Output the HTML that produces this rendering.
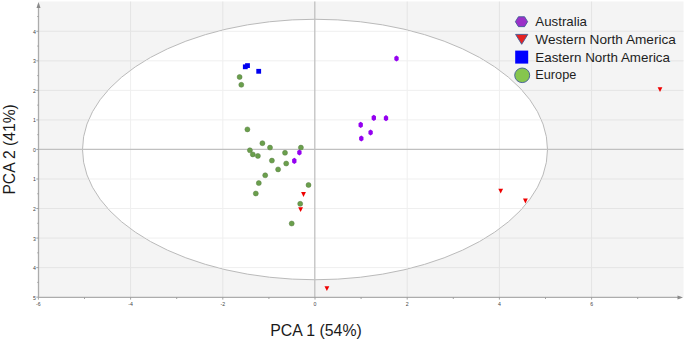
<!DOCTYPE html>
<html><head><meta charset="utf-8"><style>
html,body{margin:0;padding:0;background:#fff;width:685px;height:340px;overflow:hidden;}
svg{display:block;}
</style></head><body>
<svg width="685" height="340" viewBox="0 0 685 340">
<defs><clipPath id="ell"><ellipse cx="315" cy="149.5" rx="232" ry="129.75"/></clipPath></defs>
<rect x="38.5" y="1.5" width="645.0" height="295.9" fill="#f4f4f4"/>
<g stroke="#e4e4e4" stroke-width="1"><line x1="130.60" y1="1.5" x2="130.60" y2="297.4" /><line x1="222.80" y1="1.5" x2="222.80" y2="297.4" /><line x1="407.20" y1="1.5" x2="407.20" y2="297.4" /><line x1="499.40" y1="1.5" x2="499.40" y2="297.4" /><line x1="591.60" y1="1.5" x2="591.60" y2="297.4" /><line x1="38.5" y1="267.61" x2="683.5" y2="267.61" /><line x1="38.5" y1="238.07" x2="683.5" y2="238.07" /><line x1="38.5" y1="208.53" x2="683.5" y2="208.53" /><line x1="38.5" y1="178.99" x2="683.5" y2="178.99" /><line x1="38.5" y1="119.91" x2="683.5" y2="119.91" /><line x1="38.5" y1="90.37" x2="683.5" y2="90.37" /><line x1="38.5" y1="60.83" x2="683.5" y2="60.83" /><line x1="38.5" y1="31.29" x2="683.5" y2="31.29" /></g>
<ellipse cx="315" cy="149.5" rx="232.5" ry="130.25" fill="#ffffff" stroke="#bababa" stroke-width="1"/>
<g stroke="#efefef" stroke-width="1" clip-path="url(#ell)"><line x1="130.60" y1="1.5" x2="130.60" y2="297.4" /><line x1="222.80" y1="1.5" x2="222.80" y2="297.4" /><line x1="407.20" y1="1.5" x2="407.20" y2="297.4" /><line x1="499.40" y1="1.5" x2="499.40" y2="297.4" /><line x1="591.60" y1="1.5" x2="591.60" y2="297.4" /><line x1="38.5" y1="267.61" x2="683.5" y2="267.61" /><line x1="38.5" y1="238.07" x2="683.5" y2="238.07" /><line x1="38.5" y1="208.53" x2="683.5" y2="208.53" /><line x1="38.5" y1="178.99" x2="683.5" y2="178.99" /><line x1="38.5" y1="119.91" x2="683.5" y2="119.91" /><line x1="38.5" y1="90.37" x2="683.5" y2="90.37" /><line x1="38.5" y1="60.83" x2="683.5" y2="60.83" /><line x1="38.5" y1="31.29" x2="683.5" y2="31.29" /></g>
<line x1="38.5" y1="149.45" x2="683.5" y2="149.45" stroke="#c0c0c0" stroke-width="1.3"/>
<line x1="314.8" y1="1.5" x2="314.8" y2="297.4" stroke="#c0c0c0" stroke-width="1.3"/>
<line x1="38.5" y1="297.4" x2="680.5" y2="297.4" stroke="#acacac" stroke-width="1.3"/>
<line x1="38.5" y1="297.4" x2="38.5" y2="4.5" stroke="#acacac" stroke-width="1.3"/>
<path d="M683.0,297.4 L677.5,295.4 L677.5,299.4 Z" fill="#8a8a8a"/>
<path d="M38.5,2.0 L36.5,8.0 L40.5,8.0 Z" fill="#8a8a8a"/>
<g stroke="#999" stroke-width="0.9"><line x1="38.40" y1="297.4" x2="38.40" y2="299.59999999999997"/><line x1="84.50" y1="297.4" x2="84.50" y2="299.0"/><line x1="130.60" y1="297.4" x2="130.60" y2="299.59999999999997"/><line x1="176.70" y1="297.4" x2="176.70" y2="299.0"/><line x1="222.80" y1="297.4" x2="222.80" y2="299.59999999999997"/><line x1="268.90" y1="297.4" x2="268.90" y2="299.0"/><line x1="315.00" y1="297.4" x2="315.00" y2="299.59999999999997"/><line x1="361.10" y1="297.4" x2="361.10" y2="299.0"/><line x1="407.20" y1="297.4" x2="407.20" y2="299.59999999999997"/><line x1="453.30" y1="297.4" x2="453.30" y2="299.0"/><line x1="499.40" y1="297.4" x2="499.40" y2="299.59999999999997"/><line x1="545.50" y1="297.4" x2="545.50" y2="299.0"/><line x1="591.60" y1="297.4" x2="591.60" y2="299.59999999999997"/><line x1="637.70" y1="297.4" x2="637.70" y2="299.0"/><line x1="36.3" y1="297.15" x2="38.5" y2="297.15"/><line x1="37.3" y1="282.38" x2="38.5" y2="282.38"/><line x1="36.3" y1="267.61" x2="38.5" y2="267.61"/><line x1="37.3" y1="252.84" x2="38.5" y2="252.84"/><line x1="36.3" y1="238.07" x2="38.5" y2="238.07"/><line x1="37.3" y1="223.30" x2="38.5" y2="223.30"/><line x1="36.3" y1="208.53" x2="38.5" y2="208.53"/><line x1="37.3" y1="193.76" x2="38.5" y2="193.76"/><line x1="36.3" y1="178.99" x2="38.5" y2="178.99"/><line x1="37.3" y1="164.22" x2="38.5" y2="164.22"/><line x1="36.3" y1="149.45" x2="38.5" y2="149.45"/><line x1="37.3" y1="134.68" x2="38.5" y2="134.68"/><line x1="36.3" y1="119.91" x2="38.5" y2="119.91"/><line x1="37.3" y1="105.14" x2="38.5" y2="105.14"/><line x1="36.3" y1="90.37" x2="38.5" y2="90.37"/><line x1="37.3" y1="75.60" x2="38.5" y2="75.60"/><line x1="36.3" y1="60.83" x2="38.5" y2="60.83"/><line x1="37.3" y1="46.06" x2="38.5" y2="46.06"/><line x1="36.3" y1="31.29" x2="38.5" y2="31.29"/><line x1="37.3" y1="16.52" x2="38.5" y2="16.52"/></g>
<g font-family="Liberation Sans" font-size="5.2" fill="#444"><text x="38.40" y="306.30" text-anchor="middle">-6</text><text x="130.60" y="306.30" text-anchor="middle">-4</text><text x="222.80" y="306.30" text-anchor="middle">-2</text><text x="315.00" y="306.30" text-anchor="middle">0</text><text x="407.20" y="306.30" text-anchor="middle">2</text><text x="499.40" y="306.30" text-anchor="middle">4</text><text x="591.60" y="306.30" text-anchor="middle">6</text><text x="35.9" y="299.65" text-anchor="end">5</text><text x="35.9" y="270.11" text-anchor="end">4</text><text x="35.9" y="240.57" text-anchor="end">3</text><text x="35.9" y="211.03" text-anchor="end">2</text><text x="35.9" y="181.49" text-anchor="end">1</text><text x="35.9" y="151.95" text-anchor="end">0</text><text x="35.9" y="122.41" text-anchor="end">1</text><text x="35.9" y="92.87" text-anchor="end">2</text><text x="35.9" y="63.33" text-anchor="end">3</text><text x="35.9" y="33.79" text-anchor="end">4</text></g>
<circle cx="239.6" cy="77" r="2.5" fill="#6a9f4c" stroke="#5a7f45" stroke-width="0.5"/><circle cx="241.3" cy="84.8" r="2.5" fill="#6a9f4c" stroke="#5a7f45" stroke-width="0.5"/><circle cx="247.4" cy="129.4" r="2.5" fill="#6a9f4c" stroke="#5a7f45" stroke-width="0.5"/><circle cx="262.4" cy="143.2" r="2.5" fill="#6a9f4c" stroke="#5a7f45" stroke-width="0.5"/><circle cx="270" cy="147.6" r="2.5" fill="#6a9f4c" stroke="#5a7f45" stroke-width="0.5"/><circle cx="249.9" cy="150.3" r="2.5" fill="#6a9f4c" stroke="#5a7f45" stroke-width="0.5"/><circle cx="252.8" cy="154.4" r="2.5" fill="#6a9f4c" stroke="#5a7f45" stroke-width="0.5"/><circle cx="257.9" cy="155.9" r="2.5" fill="#6a9f4c" stroke="#5a7f45" stroke-width="0.5"/><circle cx="271.9" cy="160.6" r="2.5" fill="#6a9f4c" stroke="#5a7f45" stroke-width="0.5"/><circle cx="285" cy="152.8" r="2.5" fill="#6a9f4c" stroke="#5a7f45" stroke-width="0.5"/><circle cx="300.9" cy="147.6" r="2.5" fill="#6a9f4c" stroke="#5a7f45" stroke-width="0.5"/><circle cx="286.2" cy="163.5" r="2.5" fill="#6a9f4c" stroke="#5a7f45" stroke-width="0.5"/><circle cx="278.1" cy="169.4" r="2.5" fill="#6a9f4c" stroke="#5a7f45" stroke-width="0.5"/><circle cx="265.2" cy="175.3" r="2.5" fill="#6a9f4c" stroke="#5a7f45" stroke-width="0.5"/><circle cx="258.8" cy="183.1" r="2.5" fill="#6a9f4c" stroke="#5a7f45" stroke-width="0.5"/><circle cx="255.8" cy="193.5" r="2.5" fill="#6a9f4c" stroke="#5a7f45" stroke-width="0.5"/><circle cx="308.5" cy="185" r="2.5" fill="#6a9f4c" stroke="#5a7f45" stroke-width="0.5"/><circle cx="300.2" cy="203.8" r="2.5" fill="#6a9f4c" stroke="#5a7f45" stroke-width="0.5"/><circle cx="291.7" cy="223.5" r="2.5" fill="#6a9f4c" stroke="#5a7f45" stroke-width="0.5"/><rect x="242.9" y="64.39999999999999" width="4.8" height="4.8" fill="#0000f0"/><rect x="245.1" y="63.199999999999996" width="4.8" height="4.8" fill="#0000f0"/><rect x="256.3" y="68.89999999999999" width="4.8" height="4.8" fill="#0000f0"/><polygon points="299.40,155.60 297.23,154.05 297.23,150.95 299.40,149.40 301.57,150.95 301.57,154.05" fill="#9400f0"/><polygon points="294.30,164.00 292.13,162.45 292.13,159.35 294.30,157.80 296.47,159.35 296.47,162.45" fill="#9400f0"/><polygon points="373.80,121.00 371.63,119.45 371.63,116.35 373.80,114.80 375.97,116.35 375.97,119.45" fill="#9400f0"/><polygon points="386.00,121.30 383.83,119.75 383.83,116.65 386.00,115.10 388.17,116.65 388.17,119.75" fill="#9400f0"/><polygon points="360.70,128.00 358.53,126.45 358.53,123.35 360.70,121.80 362.87,123.35 362.87,126.45" fill="#9400f0"/><polygon points="370.60,135.60 368.43,134.05 368.43,130.95 370.60,129.40 372.77,130.95 372.77,134.05" fill="#9400f0"/><polygon points="361.30,141.60 359.13,140.05 359.13,136.95 361.30,135.40 363.47,136.95 363.47,140.05" fill="#9400f0"/><polygon points="396.50,61.60 394.33,60.05 394.33,56.95 396.50,55.40 398.67,56.95 398.67,60.05" fill="#9400f0"/><polygon points="301.10,192.00 305.90,192.00 303.50,196.90" fill="#ee0000"/><polygon points="298.20,207.20 303.00,207.20 300.60,212.10" fill="#ee0000"/><polygon points="324.50,286.20 329.30,286.20 326.90,291.10" fill="#ee0000"/><polygon points="498.30,188.70 503.10,188.70 500.70,193.60" fill="#ee0000"/><polygon points="523.00,198.50 527.80,198.50 525.40,203.40" fill="#ee0000"/><polygon points="657.60,87.20 662.40,87.20 660.00,92.10" fill="#ee0000"/>
<g font-family="Liberation Sans" font-size="13.3" fill="#1e1e1e"><text x="535.3" y="25.9" textLength="51.7" lengthAdjust="spacingAndGlyphs">Australia</text><text x="535.3" y="43.9" textLength="140.6" lengthAdjust="spacingAndGlyphs">Western North America</text><text x="535.3" y="61.6" textLength="134.7" lengthAdjust="spacingAndGlyphs">Eastern North America</text><text x="535.3" y="78.9" textLength="41.0" lengthAdjust="spacingAndGlyphs">Europe</text></g>
<polygon points="527.60,21.70 524.55,26.64 518.45,26.64 515.40,21.70 518.45,16.76 524.55,16.76" fill="#9b30c8" stroke="#3f5b96" stroke-width="0.9"/><polygon points="515.6,34.4 527.8,34.4 521.7,44.3" fill="#e52222" stroke="#3f5b96" stroke-width="0.9" stroke-linejoin="round"/><rect x="515.2" y="50.6" width="13" height="13" fill="#0000ff"/><ellipse cx="522.2" cy="75.3" rx="7.5" ry="7.3" fill="#86c64e" stroke="#3f5b96" stroke-width="0.9"/>
<text x="316" y="335.6" text-anchor="middle" font-family="Liberation Sans" font-size="16.7" fill="#1a1a1a" textLength="91.6" lengthAdjust="spacingAndGlyphs">PCA 1 (54%)</text>
<text transform="translate(14.6,149.4) rotate(-90)" text-anchor="middle" font-family="Liberation Sans" font-size="16.5" fill="#1a1a1a" textLength="90.4" lengthAdjust="spacingAndGlyphs">PCA 2 (41%)</text>
</svg>
</body></html>
